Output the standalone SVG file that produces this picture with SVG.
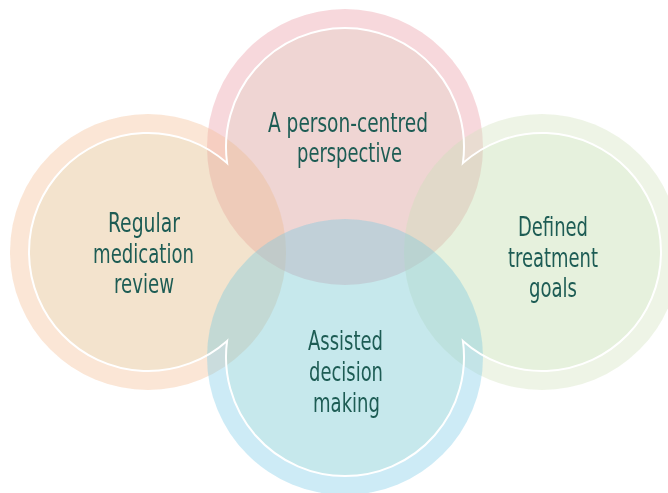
<svg xmlns="http://www.w3.org/2000/svg" width="668" height="493" viewBox="0 0 668 493">
<style>
.disc{opacity:0.4}
.lbl{font-family:"DejaVu Sans Condensed","DejaVu Sans",sans-serif;font-stretch:condensed;font-size:27px;fill:#1d5c54;text-anchor:middle}
.tint{fill:#F7FCF5;stroke:none;mix-blend-mode:multiply}
.cyc{fill:none;stroke:#ffffff;stroke-width:2;stroke-linejoin:miter;stroke-miterlimit:20}
</style>
<defs>
  <path id="union" d="M227.1 163.1 A119 119 0 1 1 462.9 163.1 A119 119 0 1 1 462.9 340.9 A119 119 0 1 1 227.1 340.9 A119 119 0 1 1 227.1 163.1 Z"/>
</defs>
<rect width="668" height="493" fill="#ffffff"/>
<g id="discs">
  <circle class="disc" cx="345" cy="147" r="138" fill="#EB9DA8"/>
  <circle class="disc" cx="148" cy="252" r="138" fill="#F5C198"/>
  <circle class="disc" cx="542" cy="252" r="138" fill="#D4E4C1"/>
  <circle class="disc" cx="345" cy="357" r="138" fill="#82CDE8"/>
</g>
<use href="#union" class="tint"/>
<g id="connectors">
  <use href="#union" class="cyc"/>
</g>
<g id="node-person-centred">
  <text class="lbl" x="348" y="132" textLength="160" lengthAdjust="spacingAndGlyphs">A person-centred</text>
  <text class="lbl" x="349.5" y="162" textLength="105" lengthAdjust="spacingAndGlyphs">perspective</text>
</g>
<g id="node-medication-review">
  <text class="lbl" x="144" y="232" textLength="72" lengthAdjust="spacingAndGlyphs">Regular</text>
  <text class="lbl" x="143.5" y="263" textLength="101" lengthAdjust="spacingAndGlyphs">medication</text>
  <text class="lbl" x="144" y="293" textLength="60" lengthAdjust="spacingAndGlyphs">review</text>
</g>
<g id="node-treatment-goals">
  <text class="lbl" x="553" y="236" textLength="70" lengthAdjust="spacingAndGlyphs">Defined</text>
  <text class="lbl" x="553" y="267" textLength="90" lengthAdjust="spacingAndGlyphs">treatment</text>
  <text class="lbl" x="553" y="297" textLength="48" lengthAdjust="spacingAndGlyphs">goals</text>
</g>
<g id="node-decision-making">
  <text class="lbl" x="345.5" y="350" textLength="75" lengthAdjust="spacingAndGlyphs">Assisted</text>
  <text class="lbl" x="346" y="381" textLength="74" lengthAdjust="spacingAndGlyphs">decision</text>
  <text class="lbl" x="346.5" y="412" textLength="67" lengthAdjust="spacingAndGlyphs">making</text>
</g>
</svg>
